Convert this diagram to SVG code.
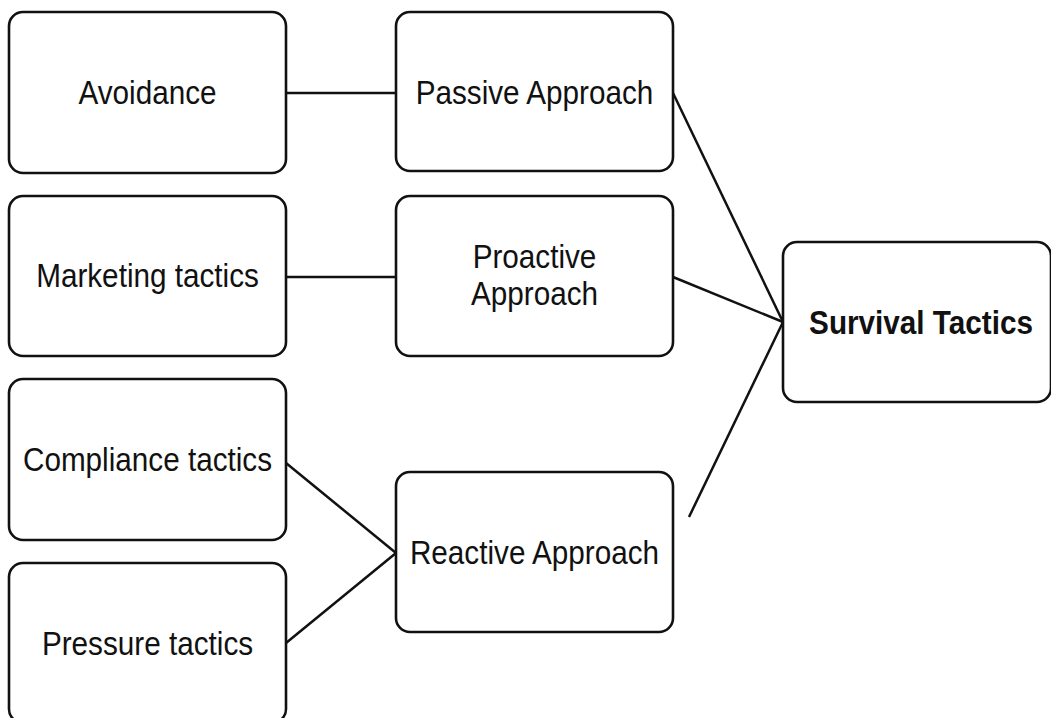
<svg xmlns="http://www.w3.org/2000/svg" width="1051" height="718" viewBox="0 0 1051 718">
<style>
.box{fill:#fff;stroke:#111;stroke-width:2.6}
.lbl{font-family:"Liberation Sans",Arial,sans-serif;font-size:33px;fill:#111;text-anchor:middle}
.b{font-weight:bold}
.c{stroke:#111;stroke-width:2.5;fill:none}
</style>
<rect width="1051" height="718" fill="#fff"/>
<g id="connectors">
<line class="c" x1="286" y1="93" x2="396" y2="93"/>
<line class="c" x1="286" y1="277" x2="396" y2="277"/>
<line class="c" x1="286" y1="463" x2="396" y2="553"/>
<line class="c" x1="286" y1="643" x2="396" y2="553"/>
<line class="c" x1="673" y1="93" x2="783" y2="322"/>
<line class="c" x1="673" y1="277" x2="783" y2="322"/>
<line class="c" x1="689" y1="517" x2="783" y2="322"/>
</g>
<g id="avoidance">
<rect class="box" x="9" y="12" width="277" height="161" rx="14"/>
<text class="lbl" transform="translate(147.5,104) scale(0.9,1)">Avoidance</text>
</g>
<g id="marketing">
<rect class="box" x="9" y="196" width="277" height="160" rx="14"/>
<text class="lbl" transform="translate(147.5,287) scale(0.9,1)">Marketing tactics</text>
</g>
<g id="compliance">
<rect class="box" x="9" y="379" width="277" height="161" rx="14"/>
<text class="lbl" transform="translate(147.5,471) scale(0.9,1)">Compliance tactics</text>
</g>
<g id="pressure">
<rect class="box" x="9" y="563" width="277" height="160" rx="14"/>
<text class="lbl" transform="translate(147.5,655) scale(0.9,1)">Pressure tactics</text>
</g>
<g id="passive">
<rect class="box" x="396" y="12" width="277" height="159" rx="14"/>
<text class="lbl" transform="translate(534.5,104) scale(0.9,1)">Passive Approach</text>
</g>
<g id="proactive">
<rect class="box" x="396" y="196" width="277" height="160" rx="14"/>
<text class="lbl" transform="translate(534.5,268) scale(0.9,1)">Proactive</text>
<text class="lbl" transform="translate(534.5,305) scale(0.9,1)">Approach</text>
</g>
<g id="reactive">
<rect class="box" x="396" y="472" width="277" height="160" rx="14"/>
<text class="lbl" transform="translate(534.5,564) scale(0.9,1)">Reactive Approach</text>
</g>
<g id="survival">
<rect class="box" x="783" y="242" width="268" height="160" rx="14"/>
<text class="lbl b" transform="translate(921,334) scale(0.9,1)">Survival Tactics</text>
</g>
</svg>
